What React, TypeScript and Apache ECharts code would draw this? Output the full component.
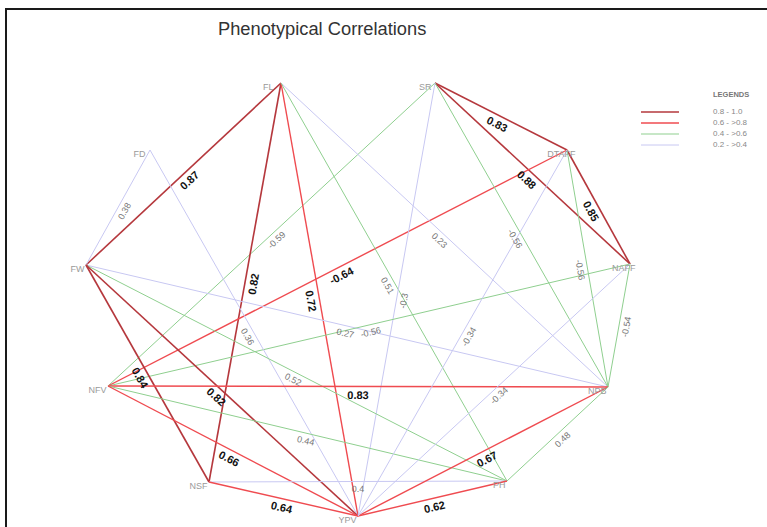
import React, { useEffect, useRef } from "react";
import * as echarts from "echarts";

// ---- data ----
const nodeNames = ["FL", "SR", "DTAFF", "NAFF", "NPB", "PH", "YPV", "NSF", "NFV", "FW", "FD"];
// network layout positions (layout units)
const nodeX = [281, 435, 567, 630, 608, 507, 358, 209, 108, 86, 150];
const nodeY = [83, 83, 150, 264, 387, 481, 516, 482, 386, 265, 150];

const edgeSource = ["FW", "FW", "SR", "SR", "DTAFF", "SR", "FL", "FL", "DTAFF", "FL", "SR", "DTAFF", "NAFF", "FL", "SR", "FW", "NAFF", "FD", "FW", "FW", "FW", "NFV", "NFV", "NFV", "NSF", "NSF", "YPV", "YPV", "PH", "DTAFF", "NAFF"];
const edgeTarget = ["FL", "FD", "DTAFF", "NAFF", "NAFF", "NFV", "NSF", "YPV", "NFV", "NPB", "NPB", "NPB", "NPB", "PH", "YPV", "NPB", "NFV", "YPV", "PH", "NSF", "YPV", "NPB", "PH", "YPV", "PH", "YPV", "PH", "NPB", "NPB", "YPV", "YPV"];
const edgeText = ["0.87", "0.38", "0.83", "0.88", "0.85", "-0.59", "0.82", "0.72", "-0.64", "0.23", "-0.56", "-0.56", "-0.54", "0.51", "-0.3", "0.27", "-0.56", "0.36", "0.52", "0.84", "0.82", "0.83", "0.44", "0.66", "0.4", "0.64", "0.62", "0.67", "0.48", "-0.34", "-0.34"];
// colour class of each drawn edge (1: 0.8-1.0, 2: 0.6->0.8, 3: 0.4->0.6, 4: 0.2->0.4)
const edgeTier = [1, 4, 1, 1, 1, 3, 1, 2, 2, 4, 3, 3, 3, 3, 4, 4, 3, 4, 3, 1, 1, 2, 3, 2, 4, 2, 2, 2, 3, 4, 4];

const legendTitle = "LEGENDS";
const legendLabels = ["0.8 - 1.0", "0.6 - >0.8", "0.4 - >0.6", "0.2 - >0.4"];

const titleText = "Phenotypical Correlations";

// ---- styles ----
const tierColors = ["#b5383d", "#ef4b50", "#8fcf8f", "#c8c8f2"];
const tierWidths = [1.6, 1.4, 1, 1];
const nodeLabelShift: Record<string, number> = { FL: -6, SR: -2, DTAFF: 10, NAFF: 7, FD: -3 };

export default function App() {
  const ref = useRef<HTMLDivElement>(null);
  useEffect(() => {
    if (!ref.current) return;
    const chart = echarts.init(ref.current, undefined, { renderer: "svg" });
    const font = "'Liberation Sans', Arial, sans-serif";

    const nodes = nodeNames.map((n, i) => ({
      name: n,
      value: [nodeX[i], nodeY[i]],
      label: { offset: [nodeLabelShift[n] || 0, 4] },
    }));
    const links = edgeSource.map((s, i) => {
      const t = edgeTier[i];
      const strong = t <= 2;
      return {
        source: s,
        target: edgeTarget[i],
        lineStyle: { color: tierColors[t - 1], width: tierWidths[t - 1], opacity: 1, curveness: 0 },
        label: {
          show: true,
          position: "insideMiddleBottom",
          distance: 3,
          formatter: () => edgeText[i],
          fontFamily: font,
          fontSize: strong ? 11 : 9,
          fontWeight: strong ? "bold" : "normal",
          color: strong ? "#111" : "#777",
        },
      };
    });

    const legendGraphics: any[] = [
      {
        type: "text",
        left: 713,
        top: 90,
        style: { text: legendTitle, font: `bold 7.5px ${font}`, fill: "#777" },
      },
    ];
    legendLabels.forEach((l, i) => {
      const y = 112 + i * 11;
      legendGraphics.push({
        type: "line",
        shape: { x1: 641, y1: y, x2: 679, y2: y },
        style: { stroke: tierColors[i], lineWidth: tierWidths[i] },
      });
      legendGraphics.push({
        type: "text",
        x: 713,
        y: y - 0.5,
        style: { text: l, font: `8px ${font}`, fill: "#888", textVerticalAlign: "middle" },
      });
    });

    chart.setOption({
      animation: false,
      backgroundColor: "#fff",
      title: {
        text: titleText,
        left: 213,
        top: 14,
        textStyle: { fontFamily: font, fontSize: 18.3, fontWeight: "normal", color: "#333" },
      },
      grid: { left: 0, right: 0, top: 0, bottom: 0 },
      xAxis: { type: "value", min: 0, max: 767, show: false },
      yAxis: { type: "value", min: 0, max: 527, inverse: true, show: false },
      graphic: [
        {
          type: "rect",
          shape: { x: 6, y: 9, width: 900, height: 700 },
          style: { fill: "none", stroke: "#1a1a1a", lineWidth: 2 },
          silent: true,
        },
        ...legendGraphics,
      ],
      series: [
        {
          type: "graph",
          layout: "none",
          coordinateSystem: "cartesian2d",
          symbol: "circle",
          symbolSize: 1,
          itemStyle: { color: "rgba(0,0,0,0)" },
          label: {
            show: true,
            position: "left",
            distance: 1,
            fontFamily: font,
            fontSize: 9,
            color: "#9a9a9a",
          },
          edgeSymbol: ["none", "none"],
          data: nodes,
          links,
          emphasis: { disabled: true },
        },
      ],
    });
    return () => chart.dispose();
  }, []);
  return <div ref={ref} style={{ position: "fixed", left: 0, top: 0, width: 767, height: 527 }} />;
}
